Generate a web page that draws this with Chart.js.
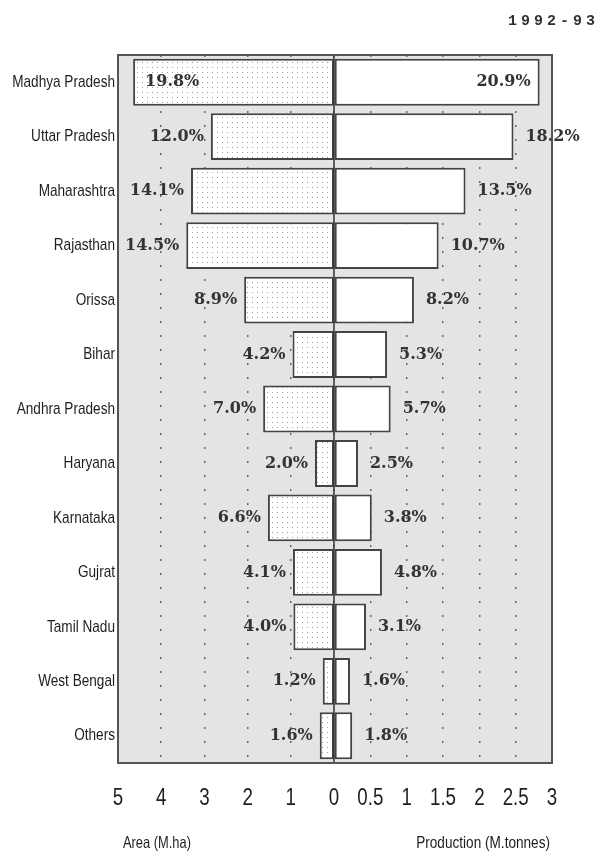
<!DOCTYPE html>
<html>
<head>
<meta charset="utf-8">
<script src="https://cdn.jsdelivr.net/npm/chart.js@4.4.1/dist/chart.umd.min.js"></script>
<style>
  body { margin: 0; background: #fff; }
  #wrap { width: 607px; height: 866px; }
</style>
</head>
<body>
<div id="wrap"><canvas id="myChart" width="607" height="866"></canvas></div>
<script>
const states = [
    'Madhya Pradesh', 'Uttar Pradesh', 'Maharashtra', 'Rajasthan', 'Orissa', 'Bihar',
    'Andhra Pradesh', 'Haryana', 'Karnataka', 'Gujrat', 'Tamil Nadu', 'West Bengal', 'Others'
];
const areaValues = [4.65, 2.85, 3.31, 3.42, 2.08, 0.96, 1.64, 0.44, 1.53, 0.95, 0.94, 0.26, 0.33];
const productionValues = [2.83, 2.47, 1.81, 1.44, 1.10, 0.73, 0.78, 0.33, 0.52, 0.66, 0.44, 0.22, 0.25];
const areaShares = ['19.8%', '12.0%', '14.1%', '14.5%', '8.9%', '4.2%', '7.0%', '2.0%', '6.6%', '4.1%', '4.0%', '1.2%', '1.6%'];
const productionShares = ['20.9%', '18.2%', '13.5%', '10.7%', '8.2%', '5.3%', '5.7%', '2.5%', '3.8%', '4.8%', '3.1%', '1.6%', '1.8%'];
const areaTicks = [5, 4, 3, 2, 1];
const productionTicks = [0, 0.5, 1, 1.5, 2, 2.5, 3];
const yearLabel = '1992-93';
const areaTitle = 'Area (M.ha)';
const productionTitle = 'Production (M.tonnes)';

function makeStipple() {
    const c = document.createElement('canvas');
    c.width = 5;
    c.height = 5;
    const g = c.getContext('2d');
    g.fillStyle = '#ffffff';
    g.fillRect(0, 0, 5, 5);
    g.fillStyle = '#a0a0a0';
    g.fillRect(2, 2, 1, 1);
    return g.createPattern(c, 'repeat');
}

const sans = "'Liberation Sans', Arial, sans-serif";

// texto comprimido a lo ancho, como la fuente estrecha del original
function narrowText(ctx, text, x, y, align, size, squeeze) {
    ctx.save();
    ctx.font = size + 'px ' + sans;
    ctx.textAlign = align;
    ctx.textBaseline = 'middle';
    ctx.translate(x, y);
    ctx.scale(squeeze, 1);
    ctx.fillText(text, 0, 0);
    ctx.restore();
}

const frame = {
    id: 'frame',
    beforeDraw(chart) {
        const a = chart.chartArea;
        const ctx = chart.ctx;
        ctx.save();
        ctx.fillStyle = '#e4e4e4';
        ctx.fillRect(a.left, a.top, a.right - a.left, a.bottom - a.top);
        ctx.restore();
    },
    afterDatasetsDraw(chart) {
        const a = chart.chartArea;
        const ctx = chart.ctx;
        const x0 = chart.scales.xArea.getPixelForValue(0);
        ctx.save();
        ctx.strokeStyle = '#333';
        ctx.lineWidth = 1.5;
        ctx.beginPath();
        ctx.moveTo(x0, a.top);
        ctx.lineTo(x0, a.bottom);
        ctx.stroke();

        // porcentajes
        ctx.font = "bold 16px 'DejaVu Serif', serif";
        ctx.fillStyle = '#333';
        ctx.textBaseline = 'middle';
        chart.getDatasetMeta(0).data.forEach((bar, i) => {
            if (i == 0) {
                ctx.textAlign = 'left';
                ctx.fillText(areaShares[i], bar.x + 12, bar.y);
            } else {
                ctx.textAlign = 'right';
                ctx.fillText(areaShares[i], bar.x - 7, bar.y);
            }
        });
        chart.getDatasetMeta(1).data.forEach((bar, i) => {
            if (i == 0) {
                ctx.textAlign = 'right';
                ctx.fillText(productionShares[i], bar.x - 9, bar.y);
            } else {
                ctx.textAlign = 'left';
                ctx.fillText(productionShares[i], bar.x + 12, bar.y);
            }
        });
        ctx.restore();
    },
    afterDraw(chart) {
        const a = chart.chartArea;
        const ctx = chart.ctx;
        ctx.save();
        ctx.strokeStyle = '#555';
        ctx.lineWidth = 2;
        ctx.strokeRect(a.left, a.top, a.right - a.left, a.bottom - a.top);

        ctx.fillStyle = '#1e1e1e';
        const yScale = chart.scales.y;
        states.forEach((s, i) => {
            narrowText(ctx, s, a.left - 3, yScale.getPixelForTick(i), 'right', 17, 0.8);
        });
        const xArea = chart.scales.xArea;
        const xProd = chart.scales.xProd;
        areaTicks.forEach(v => {
            narrowText(ctx, String(v), xArea.getPixelForValue(v), a.bottom + 35, 'center', 24, 0.78);
        });
        productionTicks.forEach(v => {
            narrowText(ctx, String(v), xProd.getPixelForValue(v), a.bottom + 35, 'center', 24, 0.78);
        });
        narrowText(ctx, areaTitle, xArea.left + 5, 843, 'left', 16.5, 0.78);
        narrowText(ctx, productionTitle, xProd.right - 2, 843, 'right', 17, 0.8);

        ctx.font = "bold 15px 'Liberation Mono', monospace";
        ctx.letterSpacing = '4px';
        ctx.fillStyle = '#333';
        ctx.textAlign = 'right';
        ctx.textBaseline = 'middle';
        ctx.fillText(yearLabel, 599, 21);
        ctx.restore();
    }
};

const ctx = document.getElementById('myChart').getContext('2d');

const data = {
    labels: states,
    datasets: [{
        label: areaTitle,
        data: areaValues,
        xAxisID: 'xArea',
        backgroundColor: makeStipple(),
        borderColor: '#444',
        borderWidth: 2,
        borderSkipped: false,
        grouped: false,
        barPercentage: 0.86,
        categoryPercentage: 1
    }, {
        label: productionTitle,
        data: productionValues,
        xAxisID: 'xProd',
        backgroundColor: '#ffffff',
        borderColor: '#444',
        borderWidth: 2,
        borderSkipped: false,
        grouped: false,
        barPercentage: 0.86,
        categoryPercentage: 1
    }]
};

const dotted = {
    display: true,
    color: '#666',
    lineWidth: 1.5,
    drawTicks: false
};

const config = {
    type: 'bar',
    data: data,
    options: {
        indexAxis: 'y',
        responsive: false,
        animation: false,
        layout: {
            padding: { top: 55, right: 55, left: 0, bottom: 0 }
        },
        scales: {
            y: {
                grid: { display: false },
                border: { display: false },
                ticks: { display: false },
                afterFit(scale) { scale.width = 118; }
            },
            xArea: {
                type: 'linear',
                position: 'bottom',
                reverse: true,
                min: 0,
                max: 5,
                stack: 'bottom',
                stackWeight: 216,
                grid: dotted,
                border: { display: false, dash: [2, 12] },
                afterBuildTicks(scale) {
                    scale.ticks = areaTicks.map(v => ({ value: v }));
                },
                ticks: { display: false },
                afterFit(scale) { scale.height = 103; }
            },
            xProd: {
                type: 'linear',
                position: 'bottom',
                min: 0,
                max: 3,
                stack: 'bottom',
                stackWeight: 218,
                grid: dotted,
                border: { display: false, dash: [2, 12] },
                afterBuildTicks(scale) {
                    scale.ticks = productionTicks.map(v => ({ value: v }));
                },
                ticks: { display: false },
                afterFit(scale) { scale.height = 103; }
            }
        },
        plugins: {
            legend: { display: false },
            title: { display: false },
            tooltip: { enabled: false }
        }
    },
    plugins: [frame]
};

const myBarChart = new Chart(ctx, config);
</script>
</body>
</html>
